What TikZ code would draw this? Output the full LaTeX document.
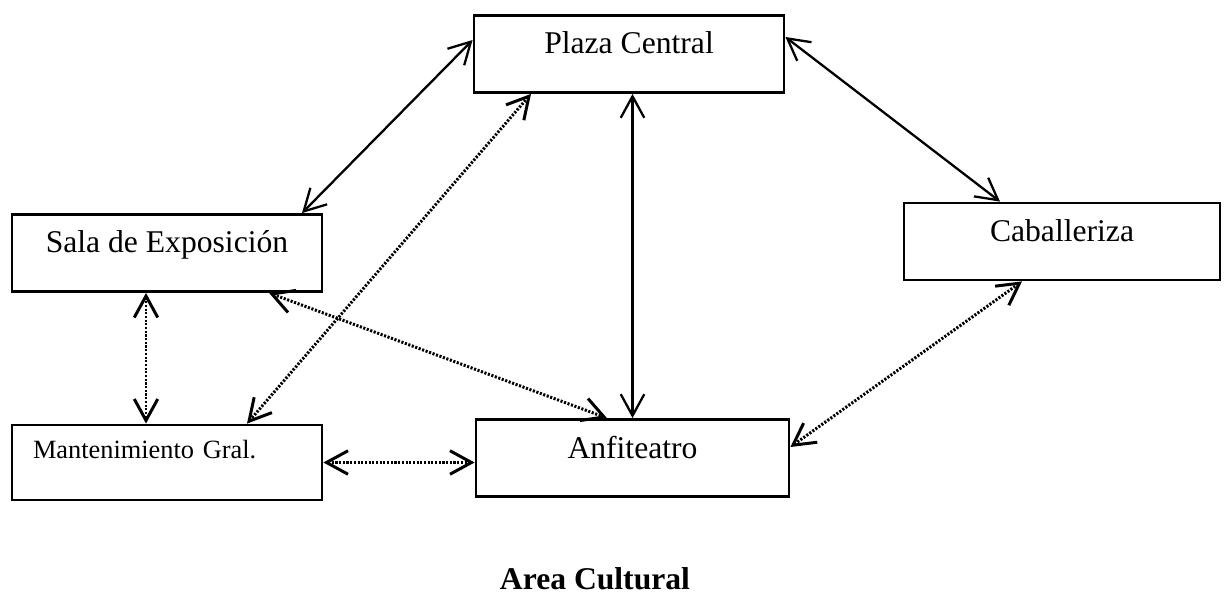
\documentclass[tikz,border=0pt]{standalone}
\usepackage{fontspec}
\setmainfont{Liberation Serif}
\usetikzlibrary{arrows.meta}

\begin{document}
\begin{tikzpicture}[>={Straight Barb[length=4.3mm, width=4.7mm]}, line width=1.3pt,
    caja/.style={draw, line width=1.6pt, minimum width=6.2cm, inner ysep=0pt,
        text height=7.7mm, text depth=7.7mm, font=\fontsize{18}{21}\selectfont},
    punteada/.style={<->, line width=1.7pt, dash pattern=on 1.2pt off 0.9pt}]
    \useasboundingbox (0,0) rectangle (24.52,-11.96);

    \node[caja] (plaza) at (12.58,-1.08) {Plaza Central};
    \node[caja] (sala) at (3.34,-5.06) {Sala de Exposición};
    \node[caja, minimum width=6.32cm] (caballeriza) at (21.24,-4.83) {Caballeriza};
    \node[caja, align=left, text width=5.36cm, inner xsep=4.2mm, text height=6.6mm,
        text depth=8.4mm, font=\fontsize{15}{18}\selectfont] (mant) at (3.34,-9.25) {Mantenimiento Gral.};
    \node[caja, minimum width=6.26cm] (anfiteatro) at (12.65,-9.16) {Anfiteatro};

    \node[font=\fontsize{18}{21}\selectfont\bfseries] (titulo) at (11.9,-11.58) {Area Cultural};

    \draw[<->] ([yshift=2.8mm]plaza.west) -- ([xshift=2.7cm]sala.north);
    \draw[<->] ([yshift=3.4mm]plaza.east) -- ([xshift=-1.24cm]caballeriza.north);
    \draw[<->] (anfiteatro.north |- plaza.south) -- (anfiteatro.north);

    \draw[punteada] ([xshift=-1.96cm]plaza.south) -- ([xshift=1.6cm]mant.north);
    \draw[punteada] ([xshift=2.04cm]sala.south) -- ([xshift=-0.51cm]anfiteatro.north);
    \draw[punteada] ([xshift=-0.42cm]sala.south) -- ([xshift=-0.42cm]mant.north);
    \draw[punteada] (mant.east) -- (mant.east -| anfiteatro.west);
    \draw[punteada] ([xshift=-0.8cm]caballeriza.south) -- ([yshift=2.2mm]anfiteatro.east);
\end{tikzpicture}
\end{document}
